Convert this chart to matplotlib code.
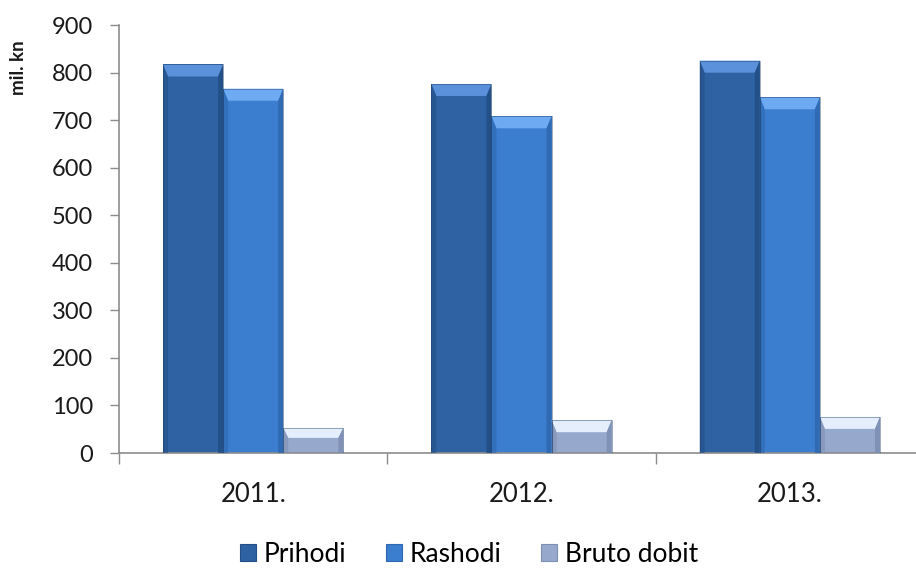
import matplotlib
matplotlib.use("Agg")
import matplotlib.pyplot as plt
from matplotlib.patches import Polygon, Patch
from matplotlib.transforms import IdentityTransform
import numpy as np

plt.rcParams['font.family'] = ['Lato', 'DejaVu Sans']

years = ["2011.", "2012.", "2013."]
series_names = ["Prihodi", "Rashodi", "Bruto dobit"]
prihodi = [817, 776, 825]
rashodi = [766, 708, 748]
bruto = [53, 69, 76]
y_ticks = [0, 100, 200, 300, 400, 500, 600, 700, 800, 900]
y_label = "mil. kn"

body_cols = ["#2e62a2", "#3b7dce", "#96a9cc"]
top_cols = ["#5b91da", "#6eaaf2", "#e4eefc"]
side_cols = ["#234f86", "#2f68b0", "#7d90b4"]

W, H = 916, 568
fig = plt.figure(figsize=(W / 100, H / 100), dpi=100)
ax = fig.add_axes([119 / W, 1 - 453 / H, (924 - 119) / W, (453 - 25) / H])

x = np.arange(len(years))
bw = 0.224
offs = [-bw, 0, bw]
all_bars = []
for vals, off, bc in zip([prihodi, rashodi, bruto], offs, body_cols):
    bars = ax.bar(x + off, vals, width=bw, color=bc, edgecolor="none", zorder=2)
    all_bars.append(bars)

ax.set_xlim(-0.5, 2.5)
ax.set_ylim(0, 900)
ax.set_yticks(y_ticks)
ax.set_yticklabels([str(v) for v in y_ticks])

ax.set_xticks([-0.5, 0.5, 1.5, 2.5])
ax.set_xticklabels([])
ax.set_xticks(x, minor=True)
ax.set_xticklabels(years, minor=True)
ax.tick_params(axis="x", which="major", length=8, width=1, color="#8c8c8c", direction="out")
ax.tick_params(axis="x", which="minor", length=0, pad=21, labelsize=18.5, labelcolor="#1a1a1a")
ax.tick_params(axis="y", length=6.5, width=1, color="#8c8c8c", pad=12, labelsize=17, labelcolor="#1a1a1a")

for s in ["top", "right"]:
    ax.spines[s].set_visible(False)
ax.spines["left"].set_color("#8c8c8c")
ax.spines["bottom"].set_color("#8c8c8c")
ax.spines["left"].set_linewidth(1.2)
ax.spines["bottom"].set_linewidth(1.2)

# bevel effect drawn from the bar geometry in pixel space
fig.canvas.draw()
for bars, tc, sc in zip(all_bars, top_cols, side_cols):
    for b in bars:
        bb = b.get_window_extent()
        x0, x1, y0, y1 = bb.x0, bb.x1, bb.y0, bb.y1
        bev = min(12, (y1 - y0) * 0.4)
        sv = 5
        ax.add_patch(Polygon([[x0, y1], [x1, y1], [x1 - sv, y1 - bev], [x0 + sv, y1 - bev]],
                             closed=True, facecolor=tc, edgecolor="none",
                             transform=IdentityTransform(), zorder=3))
        ax.add_patch(Polygon([[x0, y0], [x0, y1], [x0 + sv, y1 - bev], [x0 + sv, y0]],
                             closed=True, facecolor=sc, edgecolor="none", alpha=0.6,
                             transform=IdentityTransform(), zorder=3))
        ax.add_patch(Polygon([[x1, y0], [x1, y1], [x1 - sv, y1 - bev], [x1 - sv, y0]],
                             closed=True, facecolor=sc, edgecolor="none", alpha=0.9,
                             transform=IdentityTransform(), zorder=3))
        ax.add_patch(Polygon([[x0, y0], [x1, y0], [x1, y1], [x0, y1]], closed=True,
                             facecolor="none", edgecolor="#1f3f6a", linewidth=0.6, alpha=0.5,
                             transform=IdentityTransform(), zorder=4))

fig.text(19 / W, 1 - 68 / H, y_label, rotation=90, ha="center", va="center",
         fontsize=13.5, fontweight="bold", color="#1a1a1a")

handles = [Patch(facecolor=c, edgecolor=s, linewidth=0.8) for c, s in zip(body_cols, side_cols)]
fig.legend(handles, series_names, loc="center", bbox_to_anchor=(469 / W, 1 - 554 / H),
           ncol=3, frameon=False, fontsize=19, handlelength=0.6, handleheight=0.6,
           handletextpad=0.3, columnspacing=1.5)

fig.savefig("out.png", dpi=100)
